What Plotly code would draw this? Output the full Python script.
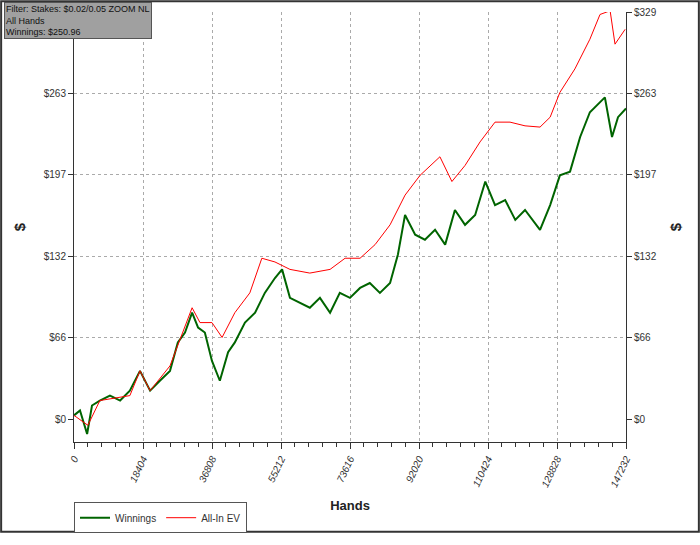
import plotly.graph_objects as go

win_x = [0,1600,3500,4800,6900,9600,12300,14900,17600,20300,22900,25600,27700,29600,31500,33100,34900,36800,38900,41100,42900,45600,48300,50900,53600,55500,57600,60300,62900,65600,68300,70900,73600,76300,78900,81600,84300,86400,88300,91000,93600,96300,99000,101600,104300,107000,109700,112300,115000,117700,120300,124300,127000,129600,132300,135000,137600,141600,143500,145100,147232]
win_y = [3,7,-12,11,15,19,15,23,39,23,31,39,62,70,86,74,70,47,31,54,62,78,86,102,114,121,98,94,90,98,86,102,98,106,110,102,110,133,165,149,145,153,141,169,157,165,192,173,177,161,169,153,173,197,200,228,248,260,228,244,251]
ev_x = [0,3700,6900,14900,17600,20300,25600,29600,31500,33600,36800,39500,42900,46900,50100,53600,57600,62900,68300,72300,76300,80300,84300,88300,92300,97600,100800,104300,108300,112300,116300,120300,124300,127000,129600,133600,137600,140300,143000,144300,147000]
ev_y = [3,-5,15,19,39,23,43,74,90,78,78,66,86,102,130,127,121,118,121,130,130,141,157,181,197,212,192,205,224,240,240,237,236,244,264,283,307,327,330,303,315]

xt = [0,18404,36808,55212,73616,92020,110424,128828,147232]
xtxt = [str(v) for v in xt]
yt = [0,65.8,131.6,197.4,263.2,329]
ytxt = ["$0","$66","$132","$197","$263","$329"]

fig = go.Figure()
fig.add_trace(go.Scatter(x=win_x, y=win_y, mode="lines", name="Winnings", line=dict(color="#006400", width=2)))
fig.add_trace(go.Scatter(x=ev_x, y=ev_y, mode="lines", name="All-In EV", line=dict(color="#ff0000", width=1)))
fig.add_trace(go.Scatter(x=[0], y=[0], yaxis="y2", mode="markers", marker=dict(opacity=0), showlegend=False, hoverinfo="skip"))

font = dict(family="Liberation Sans, Arial", size=10, color="#333")
fig.update_layout(
    width=700, height=545, margin=dict(l=74, r=74, t=12, b=93),
    paper_bgcolor="white", plot_bgcolor="white", font=font,
    xaxis=dict(range=[0,147232], tickvals=xt, ticktext=xtxt, tickangle=-65, showgrid=True, gridcolor="#aaa", griddash="dot",
               zeroline=False, showline=True, linecolor="#333", ticks="outside", ticklen=6, tickcolor="#333",
               automargin=False,
               minor=dict(dtick=3680.8, ticks="outside", ticklen=4, tickcolor="#333", showgrid=False),
               title=dict(text="<b>Hands</b>", font=dict(size=13, color="#222"), standoff=12),
               tickfont=dict(size=10, style="italic")),
    yaxis=dict(range=[-18.5,329], tickvals=yt, ticktext=ytxt, showgrid=True, gridcolor="#aaa", griddash="dot",
               zeroline=True, zerolinecolor="#888", zerolinewidth=1.5, showline=True, linecolor="#333",
               ticks="outside", ticklen=5, tickcolor="#333", automargin=False,
               title=dict(text="<b>$</b>", font=dict(size=15, color="#222"), standoff=14)),
    yaxis2=dict(range=[-18.5,329], tickvals=yt, ticktext=ytxt, overlaying="y", side="right", showgrid=False,
                showline=True, linecolor="#333", ticks="outside", ticklen=5, tickcolor="#333", automargin=False,
                title=dict(text="<b>$</b>", font=dict(size=15, color="#222"), standoff=14)),
    legend=dict(orientation="h", x=0.0, y=-0.14, xanchor="left", yanchor="top", bordercolor="#555", borderwidth=1,
                font=dict(size=10)),
    annotations=[dict(text="Filter: Stakes: $0.02/0.05 ZOOM NL<br>All Hands<br>Winnings: $250.96", xref="paper", yref="paper",
                      x=-0.127, y=1.023, xanchor="left", yanchor="top", align="left", showarrow=False,
                      bgcolor="#a0a0a0", bordercolor="#555", borderwidth=1, font=dict(size=9, color="#111"))],
    shapes=[dict(type="rect", xref="paper", yref="paper", x0=-0.132, x1=1.132, y0=-0.209, y1=1.025,
                 line=dict(color="#333", width=2))],
)
fig.write_html("out.html", config={"displayModeBar": False}, post_script="document.body.style.margin='0';")
